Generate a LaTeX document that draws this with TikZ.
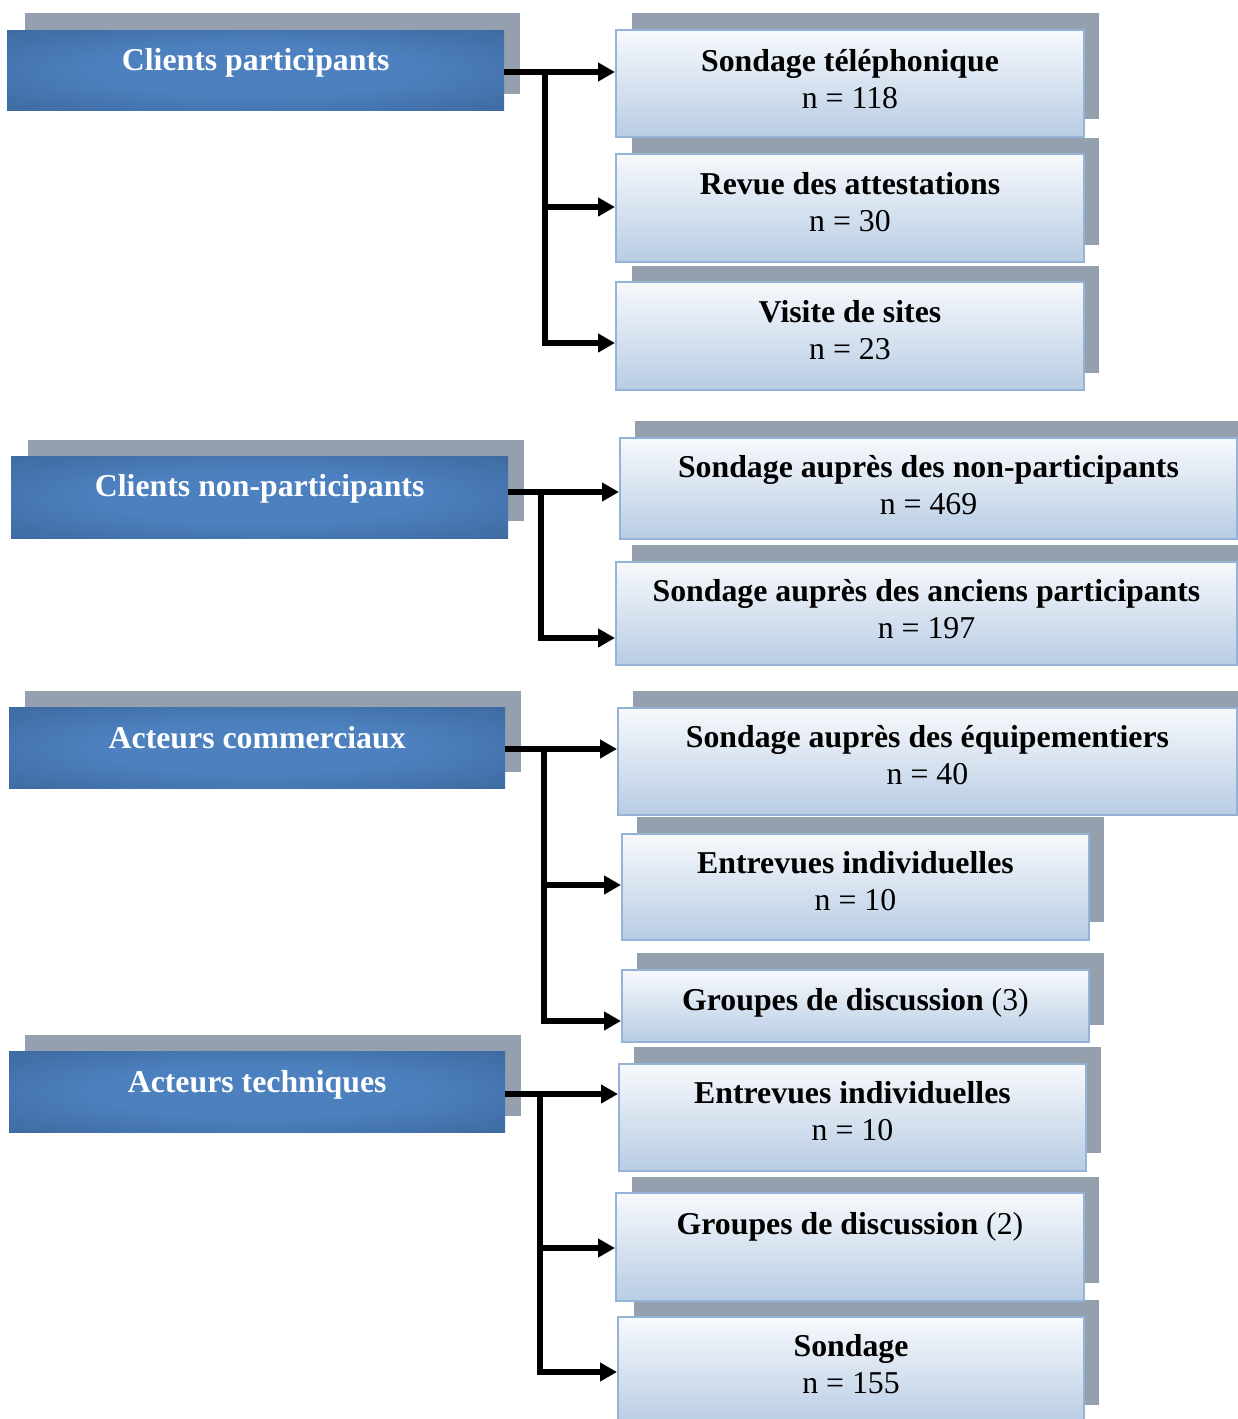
\documentclass[tikz,border=0pt]{standalone}
\usepackage{fontspec}
\setmainfont{Liberation Serif}
\usetikzlibrary{arrows.meta,calc}
\definecolor{shdc}{HTML}{95A0AF}
\definecolor{lbC}{HTML}{4C80BE}
\definecolor{lbE}{HTML}{365F91}
\definecolor{rbT}{HTML}{F7F9FC}
\definecolor{rbB}{HTML}{B8CCE4}
\definecolor{rbD}{HTML}{95B3D7}
\pgfdeclareradialshading{leftblue}{\pgfpoint{0bp}{0bp}}{color(0bp)=(lbC); color(16bp)=(lbC); color(46bp)=(lbE); color(72bp)=(lbE)}
\tikzset{
  shdbox/.style={fill=shdc},
  lfront/.style={shade, shading=leftblue, inner sep=0pt, anchor=north west, minimum width=497pt, minimum height=80pt},
  rfront/.style={top color=rbT, bottom color=rbB, draw=rbD, line width=2pt, inner sep=0pt, anchor=north west},
  ltxt/.style={anchor=base, text=white, font=\bfseries\fontsize{31.8}{37}\selectfont, inner sep=0pt},
  rtxtb/.style={anchor=base, font=\bfseries\fontsize{31.8}{37}\selectfont, inner sep=0pt},
  rtxt/.style={anchor=base, font=\fontsize{31.8}{37}\selectfont, inner sep=0pt},
  arr/.style={draw=black, line width=5.5pt, -{Triangle[length=17pt,width=18pt]}, line join=miter},
}
\begin{document}
\begin{tikzpicture}[x=1pt,y=-1pt]
\useasboundingbox (0,0) rectangle (1238,1419);
\clip (0,0) rectangle (1238,1419);
% ---------- shadows ----------
\fill[shdbox] (25,13) rectangle (520,94);
\fill[shdbox] (28,440) rectangle (524,521);
\fill[shdbox] (25,691) rectangle (521,772);
\fill[shdbox] (25,1035) rectangle (521,1116);
\fill[shdbox] (632,13) rectangle (1099,119);
\fill[shdbox] (632,138) rectangle (1099,245);
\fill[shdbox] (632,266) rectangle (1099,373);
\fill[shdbox] (635,421) rectangle (1238,521);
\fill[shdbox] (632,545) rectangle (1238,648);
\fill[shdbox] (633,691) rectangle (1238,797);
\fill[shdbox] (637,817) rectangle (1104,922);
\fill[shdbox] (637,953) rectangle (1104,1025);
\fill[shdbox] (634,1047) rectangle (1101,1153);
\fill[shdbox] (632,1177) rectangle (1099,1283);
\fill[shdbox] (634,1300) rectangle (1099,1405);
% ---------- left boxes ----------
\node[lfront] (l1) at (7,30) {};
\node[lfront, minimum height=82pt] (l2) at (11,456) {};
\node[lfront, minimum width=496pt, minimum height=81pt] (l3) at (9,707) {};
\node[lfront, minimum width=496pt, minimum height=81pt] (l4) at (9,1051) {};
\node[ltxt] (l1t) at ($(l1.north)+(0,40)$) {Clients participants};
\node[ltxt] (l2t) at ($(l2.north)+(0,40)$) {Clients non-participants};
\node[ltxt] (l3t) at ($(l3.north)+(0,41)$) {Acteurs commerciaux};
\node[ltxt] (l4t) at ($(l4.north)+(0,41)$) {Acteurs techniques};
% ---------- right boxes ----------
\node[rfront, minimum width=468pt, minimum height=107pt] (r1) at (615,29) {};
\node[rfront, minimum width=468pt, minimum height=108pt] (r2) at (615,153) {};
\node[rfront, minimum width=468pt, minimum height=108pt] (r3) at (615,281) {};
\node[rfront, minimum width=617pt, minimum height=101pt] (r4) at (619,437) {};
\node[rfront, minimum width=621pt, minimum height=103pt] (r5) at (615,561) {};
\node[rfront, minimum width=619pt, minimum height=107pt] (r6) at (617,707) {};
\node[rfront, minimum width=467pt, minimum height=106pt] (r7) at (621,833) {};
\node[rfront, minimum width=467pt, minimum height=72pt] (r8) at (621,969) {};
\node[rfront, minimum width=467pt, minimum height=107pt] (r9) at (618,1063) {};
\node[rfront, minimum width=468pt, minimum height=108pt] (r10) at (615,1192) {};
\node[rfront, minimum width=466pt, minimum height=108pt] (r11) at (617,1316) {};
% texts
\node[rtxtb] (r1a) at ($(r1.north)+(0,42)$) {Sondage téléphonique};
\node[rtxt]  (r1b) at ($(r1.north)+(0,79)$) {n = 118};
\node[rtxtb] (r2a) at ($(r2.north)+(0,41)$) {Revue des attestations};
\node[rtxt]  (r2b) at ($(r2.north)+(0,78)$) {n = 30};
\node[rtxtb] (r3a) at ($(r3.north)+(0,41)$) {Visite de sites};
\node[rtxt]  (r3b) at ($(r3.north)+(0,78)$) {n = 23};
\node[rtxtb] (r4a) at ($(r4.north)+(0,40)$) {Sondage auprès des non-participants};
\node[rtxt]  (r4b) at ($(r4.north)+(0,77)$) {n = 469};
\node[rtxtb] (r5a) at ($(r5.north)+(0,40)$) {Sondage auprès des anciens participants};
\node[rtxt]  (r5b) at ($(r5.north)+(0,77)$) {n = 197};
\node[rtxtb] (r6a) at ($(r6.north)+(0,40)$) {Sondage auprès des équipementiers};
\node[rtxt]  (r6b) at ($(r6.north)+(0,77)$) {n = 40};
\node[rtxtb] (r7a) at ($(r7.north)+(0,40)$) {Entrevues individuelles};
\node[rtxt]  (r7b) at ($(r7.north)+(0,77)$) {n = 10};
\node[rtxtb] (r8a) at ($(r8.north)+(0,41)$) {Groupes de discussion \mdseries(3)};
\node[rtxtb] (r9a) at ($(r9.north)+(0,40)$) {Entrevues individuelles};
\node[rtxt]  (r9b) at ($(r9.north)+(0,77)$) {n = 10};
\node[rtxtb] (r10a) at ($(r10.north)+(0,42)$) {Groupes de discussion \mdseries(2)};
\node[rtxtb] (r11a) at ($(r11.north)+(0,40)$) {Sondage};
\node[rtxt]  (r11b) at ($(r11.north)+(0,77)$) {n = 155};
% ---------- connectors ----------
\draw[arr] (l1.east |- 0,72) -- (r1.west |- 0,72);
\draw[arr] (545,72) |- (r3.west |- 0,343);
\draw[arr] (545,207) -- (r2.west |- 0,207);
\draw[arr] (l2.east |- 0,492) -- (r4.west |- 0,492);
\draw[arr] (541,492) |- (r5.west |- 0,638);
\draw[arr] (l3.east |- 0,749) -- (r6.west |- 0,749);
\draw[arr] (544,749) |- (r8.west |- 0,1021);
\draw[arr] (544,885) -- (r7.west |- 0,885);
\draw[arr] (l4.east |- 0,1094) -- (r9.west |- 0,1094);
\draw[arr] (540,1094) |- (r11.west |- 0,1372);
\draw[arr] (540,1248) -- (r10.west |- 0,1248);
\end{tikzpicture}
\end{document}
